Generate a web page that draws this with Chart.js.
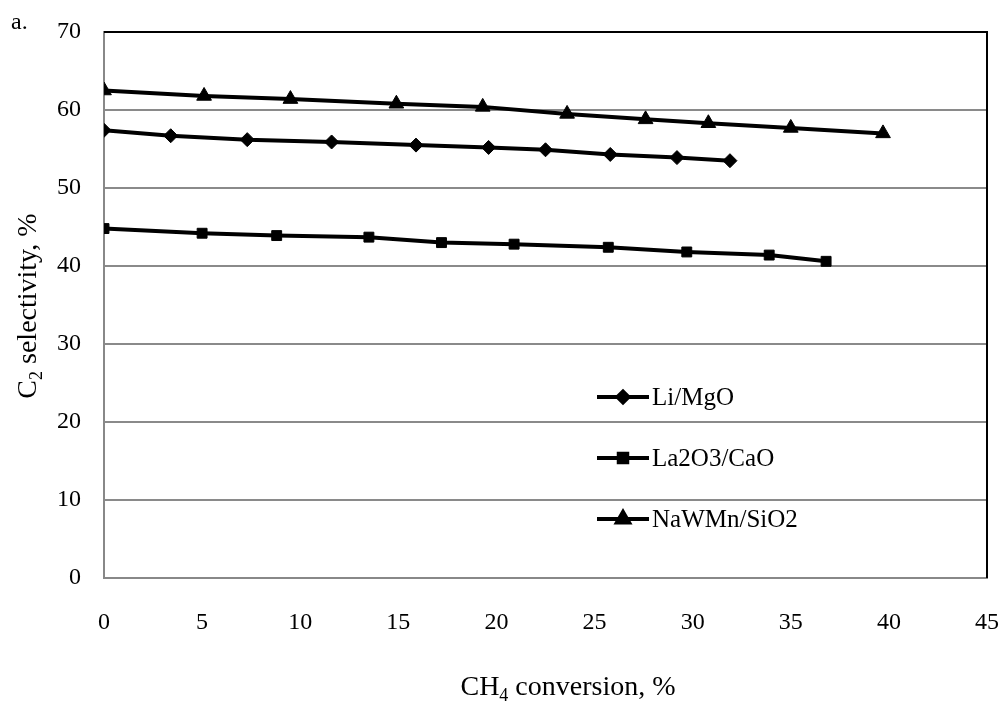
<!DOCTYPE html>
<html>
<head>
<meta charset="utf-8">
<script src="https://cdn.jsdelivr.net/npm/chart.js@4.4.0/dist/chart.umd.min.js"></script>
<style>
  html, body { margin: 0; padding: 0; background: #fff; }
  #wrap { width: 1004px; height: 703px; position: relative; }
</style>
</head>
<body>
<div id="wrap"><canvas id="myChart" width="1004" height="703"></canvas></div>
<script>
// values
var seriesNames = ['Li/MgO', 'La2O3/CaO', 'NaWMn/SiO2'];
var liX = [0, 3.4, 7.3, 11.6, 15.9, 19.6, 22.5, 25.8, 29.2, 31.9];
var liY = [57.4, 56.7, 56.2, 55.9, 55.5, 55.2, 54.9, 54.3, 53.9, 53.5];
var laX = [0, 5.0, 8.8, 13.5, 17.2, 20.9, 25.7, 29.7, 33.9, 36.8];
var laY = [44.8, 44.2, 43.9, 43.7, 43.0, 42.8, 42.4, 41.8, 41.4, 40.6];
var naX = [0, 5.1, 9.5, 14.9, 19.3, 23.6, 27.6, 30.8, 35.0, 39.7];
var naY = [62.5, 61.8, 61.4, 60.8, 60.4, 59.5, 58.8, 58.3, 57.7, 57.0];
var xTicks = [0, 5, 10, 15, 20, 25, 30, 35, 40, 45];
var yTicks = [0, 10, 20, 30, 40, 50, 60, 70];

var serif = '"Liberation Serif", "Times New Roman", serif';
var markers = ['rectRot', 'rect', 'triangle'];
var markerSize = [7, 7, 8.5];
var legendSize = [5.5, 6, 7];

function pts(xs, ys) {
    var out = [];
    for (let i = 0; i < xs.length; i++) out.push({ x: xs[i], y: ys[i] });
    return out;
}

function makeSet(i, xs, ys) {
    return {
        label: seriesNames[i],
        data: pts(xs, ys),
        borderColor: '#000',
        backgroundColor: '#000',
        borderWidth: 4,
        pointStyle: markers[i],
        pointRadius: markerSize[i],
        pointBorderWidth: 1,
        tension: 0
    };
}

// draw text with one subscript part, e.g. C + 2 + rest
function subText(ctx, a, sub, rest, x, y, size) {
    var big = size + 'px ' + serif;
    var small = Math.round(size * 0.65) + 'px ' + serif;
    ctx.font = big;
    var w1 = ctx.measureText(a).width;
    ctx.font = small;
    var w2 = ctx.measureText(sub).width;
    ctx.font = big;
    var w3 = ctx.measureText(rest).width;
    var sx = x - (w1 + w2 + w3) / 2;
    ctx.fillText(a, sx, y);
    ctx.font = small;
    ctx.fillText(sub, sx + w1, y + size * 0.22);
    ctx.font = big;
    ctx.fillText(rest, sx + w1 + w2, y);
}

// borders, custom legend and axis titles with subscripts
var extras = {
    id: 'extras',
    afterDraw(chart) {
        const ctx = chart.ctx;
        const a = chart.chartArea;
        ctx.save();
        ctx.strokeStyle = '#000';
        ctx.lineWidth = 2;
        ctx.beginPath();
        ctx.moveTo(a.left, a.top);
        ctx.lineTo(a.right, a.top);
        ctx.lineTo(a.right, a.bottom);
        ctx.stroke();

        // legend
        var rows = [397, 458, 519];
        for (let i = 0; i < 3; i++) {
            var y = rows[i];
            ctx.strokeStyle = '#000';
            ctx.lineWidth = 4;
            ctx.beginPath();
            ctx.moveTo(597, y);
            ctx.lineTo(649, y);
            ctx.stroke();
            ctx.fillStyle = '#000';
            Chart.helpers.drawPoint(ctx, {
                pointStyle: markers[i], radius: legendSize[i], borderWidth: 1
            }, 623, y);
            ctx.font = '25px ' + serif;
            ctx.textBaseline = 'middle';
            ctx.textAlign = 'left';
            ctx.fillText(seriesNames[i], 652, y + 1);
        }

        // panel letter
        ctx.font = '24px ' + serif;
        ctx.textBaseline = 'alphabetic';
        ctx.fillText('a.', 11, 29);

        // x title
        subText(ctx, 'CH', '4', ' conversion, %', 568, 695, 28);

        // y title
        ctx.translate(36, 306);
        ctx.rotate(-Math.PI / 2);
        subText(ctx, 'C', '2', ' selectivity, %', 0, 0, 28);
        ctx.restore();
    }
};

var myChart = new Chart(document.getElementById('myChart'), {
    type: 'line',
    data: {
        datasets: [
            makeSet(0, liX, liY),
            makeSet(1, laX, laY),
            makeSet(2, naX, naY)
        ]
    },
    options: {
        responsive: false,
        animation: false,
        layout: { padding: { top: 32, right: 17, left: 0, bottom: 0 } },
        plugins: {
            legend: { display: false },
            tooltip: { enabled: false }
        },
        scales: {
            x: {
                type: 'linear',
                min: 0,
                max: 45,
                afterBuildTicks: function (axis) {
                    axis.ticks = xTicks.map(v => ({ value: v }));
                },
                afterFit: function (axis) {
                    axis.height = 125;
                    axis.paddingLeft = 0;
                    axis.paddingRight = 0;
                },
                grid: { display: false, drawTicks: false },
                border: { color: '#888', width: 2 },
                ticks: {
                    color: '#000',
                    padding: 30,
                    maxRotation: 0,
                    font: { family: serif, size: 24 }
                }
            },
            y: {
                min: 0,
                max: 70,
                afterBuildTicks: function (axis) {
                    axis.ticks = yTicks.map(v => ({ value: v }));
                },
                afterFit: function (axis) {
                    axis.width = 104;
                    axis.paddingTop = 0;
                    axis.paddingBottom = 0;
                },
                grid: {
                    color: '#8a8a8a',
                    lineWidth: 2,
                    drawTicks: false
                },
                border: { color: '#888', width: 2 },
                ticks: {
                    color: '#000',
                    padding: 23,
                    font: { family: serif, size: 24 }
                }
            }
        }
    },
    plugins: [extras]
});
</script>
</body>
</html>
